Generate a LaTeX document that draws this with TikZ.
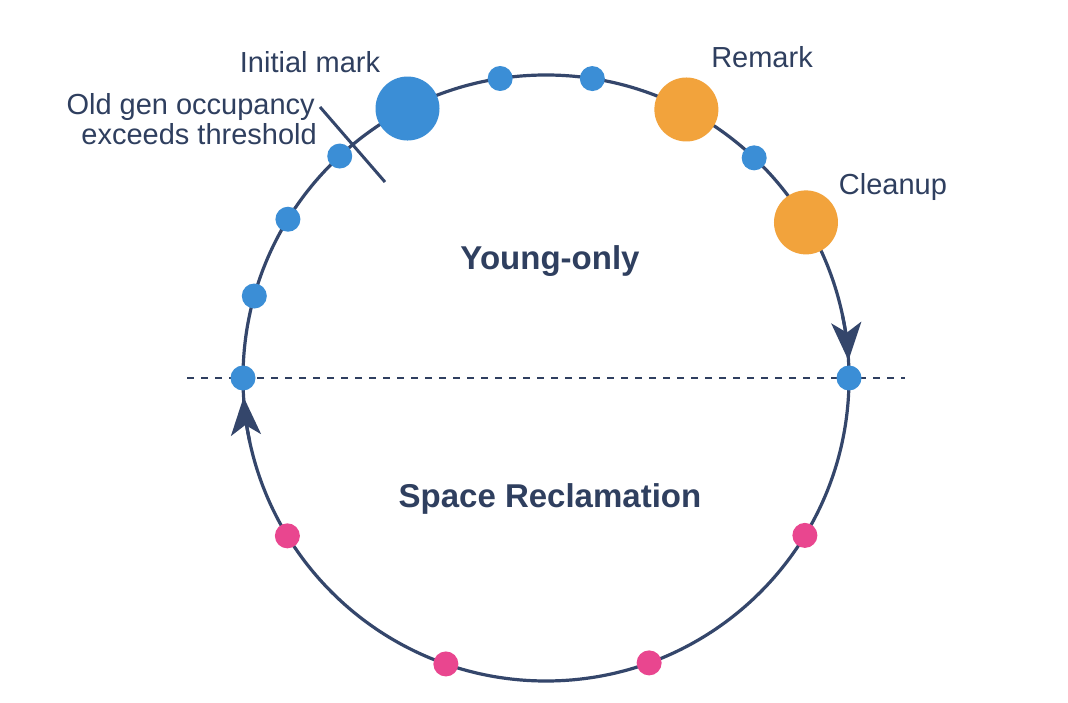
\documentclass[tikz,border=0pt]{standalone}
\usepackage{fontspec}
\setmainfont{Liberation Sans}
\usetikzlibrary{arrows.meta}
\definecolor{navy}{HTML}{34466B}
\definecolor{txt}{HTML}{2F3F5F}
\definecolor{dotblue}{HTML}{3B8ED6}
\definecolor{dotorange}{HTML}{F2A33C}
\definecolor{dotpink}{HTML}{E9468F}
\tikzset{
  ring/.style={draw=navy, line width=3.2pt},
  flowarrow/.style={draw=navy, line width=3.2pt, -{Stealth[length=38pt,width=30pt,inset=10pt]}},
  divider/.style={draw=navy!90!black, line width=1.9pt, dash pattern=on 7pt off 7pt},
  marker/.style={draw=navy, line width=3pt},
  smalldot/.style={circle, inner sep=0pt, minimum size=25pt, fill=#1},
  bigdot/.style={circle, inner sep=0pt, minimum size=64pt, fill=#1},
  lbl/.style={text=txt, inner sep=0pt, font=\fontsize{29}{30}\selectfont},
  title/.style={text=txt, inner sep=0pt, font=\fontsize{33}{36}\selectfont\bfseries},
}
\begin{document}
\begin{tikzpicture}[x=1pt,y=1pt]
\useasboundingbox[fill=white] (0,0) rectangle (1068,702);
\coordinate (O) at (546,324);
\coordinate (dl) at (187,324);
\coordinate (dr) at (905,324);
\draw[divider] (dl) -- (dr);
\draw[ring] (O) circle (303pt);
% arrows along the ring
\draw[flowarrow] ([shift={(12:303pt)}]O) arc[start angle=12, end angle=3.3, radius=303pt];
\draw[flowarrow] ([shift={(192:303pt)}]O) arc[start angle=192, end angle=183.6, radius=303pt];
% threshold marker
\coordinate (m1) at (320,595);
\coordinate (m2) at (385,520);
\draw[marker] (m1) -- (m2);
% dots
\node[bigdot=dotblue] (init) at ([shift={(117.2:303pt)}]O) {};
\node[smalldot=dotblue] (b1) at ([shift={(98.7:303pt)}]O) {};
\node[smalldot=dotblue] (b2) at ([shift={(81.2:303pt)}]O) {};
\node[bigdot=dotorange] (remark) at ([shift={(62.4:303pt)}]O) {};
\node[smalldot=dotblue] (b3) at ([shift={(46.6:303pt)}]O) {};
\node[bigdot=dotorange] (cleanup) at ([shift={(30.9:303pt)}]O) {};
\node[smalldot=dotblue] (r0) at ([shift={(0:303pt)}]O) {};
\node[smalldot=dotpink] (p1) at ([shift={(-31.3:303pt)}]O) {};
\node[smalldot=dotpink] (p2) at ([shift={(-70.1:303pt)}]O) {};
\node[smalldot=dotpink] (p3) at ([shift={(-109.3:303pt)}]O) {};
\node[smalldot=dotpink] (p4) at ([shift={(-148.6:303pt)}]O) {};
\node[smalldot=dotblue] (l0) at ([shift={(180:303pt)}]O) {};
\node[smalldot=dotblue] (l1) at ([shift={(164.3:303pt)}]O) {};
\node[smalldot=dotblue] (l2) at ([shift={(148.4:303pt)}]O) {};
\node[smalldot=dotblue] (l3) at ([shift={(132.9:303pt)}]O) {};
% labels
\node[lbl, anchor=base] (tinit) at (310,629) {Initial mark};
\node[lbl, anchor=base east] (tocc1) at (315,587) {Old gen occupancy};
\node[lbl, anchor=base east] (tocc2) at (317,557) {exceeds threshold};
\node[lbl, anchor=base] (trem) at (762,634) {Remark};
\node[lbl, anchor=base] (tclean) at (893,507) {Cleanup};
\node[title, anchor=base] (tyoung) at (550,432) {Young-only};
\node[title, anchor=base] (tspace) at (550,194) {Space Reclamation};
\end{tikzpicture}
\end{document}
